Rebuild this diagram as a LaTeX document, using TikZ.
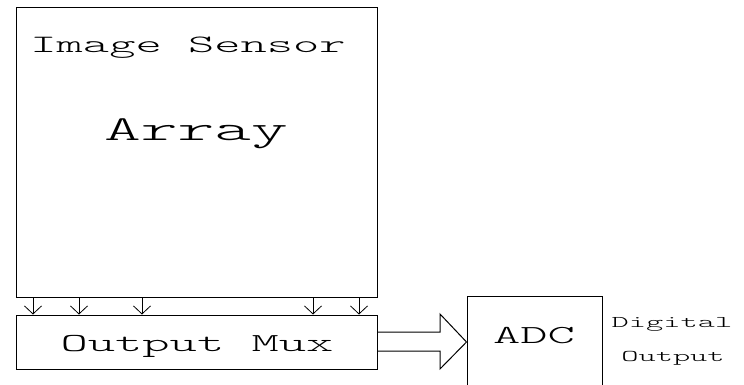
\documentclass[tikz,border=0pt]{standalone}
\usepackage{fontspec}
\newfontfamily\diagfont{lmmonolt10-regular}[Extension=.otf,FakeStretch=2.0]
\usetikzlibrary{arrows.meta}
\tikzset{block/.style={draw,line width=1pt,inner sep=0pt},
    tap/.style={line width=0.8pt,-{Straight Barb[length=8pt,width=17pt]}},
    lbl/.style={anchor=base,inner sep=0pt},
    fatarrow/.style={line width=1pt,line join=miter}
}
\newcommand{\diagsize}[1]{\diagfont\fontsize{#1}{#1}\selectfont}

\begin{document}
\begin{tikzpicture}[x=1pt,y=-1pt]
      \useasboundingbox (0,0) rectangle (744,385);
      \node[block,minimum width=361pt,minimum height=289pt] (sensor) at (196.5,152.5) {};
      \node[block,minimum width=361pt,minimum height=54pt] (mux) at (196.5,342) {};
      \node[block,minimum width=135pt,minimum height=92pt] (adc) at (534.5,342) {};
      \node[lbl,font=\diagsize{25}] (imglabel) at (188,53) {Image Sensor};
      \node[lbl,font=\diagsize{35}] (arraylabel) at (196,140) {Array};
      \node[lbl,font=\diagsize{26}] (muxlabel) at (197,351) {Output Mux};
      \node[lbl,font=\diagsize{26}] (adclabel) at (534,343) {ADC};
      \node[lbl,font=\diagsize{16.4}] (digilabel) at (672,327) {Digital};
      \node[lbl,font=\diagsize{16.4}] (outlabel) at (673,361) {Output};
      % column taps into the mux
      \foreach \x in {33,79,142,313,359}
        \draw[tap] (\x,0 |- sensor.south) -- (\x,0 |- mux.north);
      % wide arrow mux -> adc
      \draw[fatarrow] (mux.east |- 0,332) -- (440,332) -- (440,314) -- (adc.west)
          -- (440,369) -- (440,351) -- (mux.east |- 0,351);
\end{tikzpicture}
\end{document}
